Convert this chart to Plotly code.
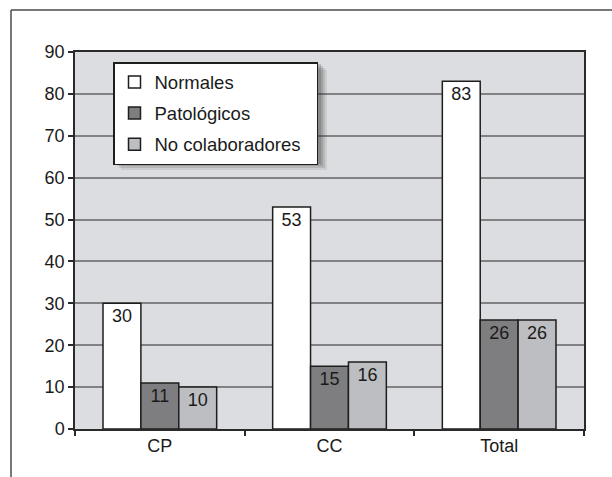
import plotly.graph_objects as go

# Study groups and counts per outcome
categories = ["CP", "CC", "Total"]
normales = [30, 53, 83]
patologicos = [11, 15, 26]
no_colaboradores = [10, 16, 26]

series_names = ["Normales", "Patológicos", "No colaboradores"]
series_values = [normales, patologicos, no_colaboradores]
series_colors = ["#ffffff", "#7e7e81", "#bdbec1"]

W, H = 612, 477
L, R, T, B = 75, 28, 52, 48
plot_w = W - L - R
plot_h = H - T - B

FONT = "Liberation Sans, Arial, Helvetica, sans-serif"
PAD = "\u00a0\u00a0"  # trailing room inside the legend box

fig = go.Figure()
for i, (name, vals, col) in enumerate(zip(series_names, series_values, series_colors)):
    fig.add_trace(go.Bar(
        x=categories, y=vals, name=name + (PAD if i == 2 else ""),
        legendgroup=f"g{i}",
        marker=dict(color=col, line=dict(color="#1e1e1e", width=1.5)),
        text=[str(v) for v in vals],
        textposition="inside", insidetextanchor="end",
        textfont=dict(family=FONT, size=18, color="#1a1a1a"),
        constraintext="none",
    ))


def px_x(px):
    return (px - L) / plot_w


def px_y(py):
    return (H - B - py) / plot_h


shapes = []
# soft drop shadow behind the legend box
lx0, ly0, lx1, ly1 = 113, 62, 319, 162
for off, op in [(8, 0.10), (6, 0.14), (4, 0.18), (2, 0.22)]:
    shapes.append(dict(
        type="rect", xref="paper", yref="paper", layer="above",
        x0=px_x(lx0 + off), x1=px_x(lx1 + off),
        y0=px_y(ly1 + off), y1=px_y(ly0 + off),
        fillcolor="#3a3a3a", opacity=op, line=dict(width=0),
    ))
# outer frame (top and left edges)
shapes.append(dict(type="line", xref="paper", yref="paper",
                   x0=px_x(11), x1=px_x(620), y0=px_y(10), y1=px_y(10),
                   line=dict(color="#4a4a4a", width=1.5)))
shapes.append(dict(type="line", xref="paper", yref="paper",
                   x0=px_x(11), x1=px_x(11), y0=px_y(10), y1=px_y(485),
                   line=dict(color="#4a4a4a", width=1.5)))

fig.update_layout(
    width=W, height=H,
    margin=dict(l=L, r=R, t=T, b=B, pad=0),
    paper_bgcolor="#ffffff",
    plot_bgcolor="#dcdde0",
    barmode="group",
    bargap=0.33,
    bargroupgap=0,
    font=dict(family=FONT, size=18, color="#1a1a1a"),
    showlegend=True,
    legend=dict(
        x=px_x(lx0), y=px_y(ly0), xanchor="left", yanchor="top",
        bgcolor="#ffffff", bordercolor="#1e1e1e", borderwidth=1.5,
        font=dict(family=FONT, size=18.5, color="#1a1a1a"),
        traceorder="grouped", tracegroupgap=4,
    ),
    xaxis=dict(
        showline=True, linecolor="#2a2a2a", linewidth=1.5, mirror=True,
        ticks="outside", tickson="boundaries", ticklen=5,
        tickcolor="#2a2a2a", tickwidth=1.5,
        showgrid=False,
        tickfont=dict(family=FONT, size=18, color="#1a1a1a"),
    ),
    yaxis=dict(
        range=[0, 90], dtick=10, tick0=0,
        showline=True, linecolor="#2a2a2a", linewidth=1.5, mirror=True,
        ticks="outside", ticklen=5, tickcolor="#2a2a2a", tickwidth=1.5,
        showgrid=True, gridcolor="#828284", gridwidth=2,
        zeroline=False,
        tickfont=dict(family=FONT, size=18, color="#1a1a1a"),
    ),
    shapes=shapes,
)

fig.write_html("out.html")
